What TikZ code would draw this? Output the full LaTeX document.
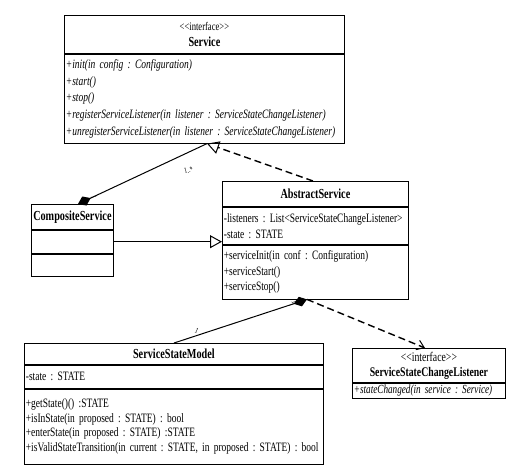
\documentclass[tikz,border=0pt]{standalone}
\usepackage{fontspec}
\setmainfont{Liberation Serif}[FakeStretch=0.74, WordSpace=0.7]
\frenchspacing
\usetikzlibrary{arrows.meta, positioning, calc}

\begin{document}
\begin{tikzpicture}[
    x=1pt, y=-1pt,
    compart/.style={draw, line width=0.8pt, anchor=north west, inner xsep=1.5pt, inner ysep=0pt,
        align=left, font=\fontsize{12.8}{16}\selectfont},
    head/.style={compart, align=center, font=\fontsize{13.8}{16}\selectfont\bfseries},
    mult/.style={font=\fontsize{8}{8}\selectfont, inner sep=0.5pt},
    realize/.style={line width=1.4pt, dash pattern=on 7pt off 4pt,
        -{Triangle[open, length=12pt, width=13pt, line width=1pt]}},
    extend/.style={line width=0.9pt, -{Triangle[open, length=12pt, width=13pt, line width=1pt]}},
    compose/.style={line width=1pt, {Diamond[length=14pt, width=10pt]}-},
    depend/.style={line width=1.4pt, dash pattern=on 7pt off 4pt,
        -{Straight Barb[length=7pt, width=10pt, line width=1pt]}}
]
\useasboundingbox (0,0) rectangle (506,469);

% Service interface
\node[head, text width=277pt, minimum height=38pt] (svcTitle) at (64,15)
    {{\mdseries\fontsize{11.6}{15}\selectfont <{}<interface>{}>}\\Service};
\node[compart, text width=277pt, minimum height=89pt, font=\fontsize{12.8}{16.8}\selectfont\itshape]
    (svcOps) at (svcTitle.south west)
    {+init(in config : Configuration)\\+start()\\+stop()\\
     +registerServiceListener(in listener : ServiceStateChangeListener)\\
     +unregisterServiceListener(in listener : ServiceStateChangeListener)};

% CompositeService
\node[head, text width=79pt, minimum height=25pt] (compTitle) at (31,204) {CompositeService};
\node[compart, text width=79pt, minimum height=23pt] (compAttr) at (compTitle.south west) {};
\node[compart, text width=79pt, minimum height=22pt] (compOps) at (compAttr.south west) {};

% AbstractService
\node[head, text width=183pt, minimum height=25pt] (absTitle) at (222,181) {AbstractService};
\node[compart, text width=183pt, minimum height=37pt] (absAttr) at (absTitle.south west)
    {-listeners : List<ServiceStateChangeListener>\\-state : STATE};
\node[compart, text width=183pt, minimum height=54pt, font=\fontsize{12.8}{15.5}\selectfont]
    (absOps) at (absAttr.south west)
    {+serviceInit(in conf : Configuration)\\+serviceStart()\\+serviceStop()};

% ServiceStateModel
\node[head, text width=296pt, minimum height=21pt] (ssmTitle) at (24,343) {ServiceStateModel};
\node[compart, text width=296pt, minimum height=23pt] (ssmAttr) at (ssmTitle.south west) {-state : STATE};
\node[compart, text width=296pt, minimum height=75pt, font=\fontsize{12.8}{14.4}\selectfont]
    (ssmOps) at (ssmAttr.south west)
    {+getState()() :STATE\\+isInState(in proposed : STATE) : bool\\
     +enterState(in proposed : STATE) :STATE\\
     +isValidStateTransition(in current : STATE, in proposed : STATE) : bool};

% ServiceStateChangeListener interface
\node[head, text width=150pt, minimum height=34pt, font=\fontsize{13.2}{15}\selectfont\bfseries] (lsnTitle) at (352,348)
    {{\mdseries <{}<interface>{}>}\\ServiceStateChangeListener};
\node[compart, text width=150pt, minimum height=15pt, font=\fontsize{12.4}{12}\selectfont\itshape]
    (lsnOps) at (lsnTitle.south west) {+stateChanged(in service : Service)};

% connector ends
\coordinate (svcHook) at ([xshift=143pt]svcOps.south west);
\coordinate (absTop) at ([xshift=91pt]absTitle.north west);
\coordinate (compTop) at ([xshift=47pt]compTitle.north west);
\coordinate (absBottom) at ([xshift=85pt]absOps.south west);
\coordinate (ssmTop) at ([xshift=150pt]ssmTitle.north west);
\coordinate (lsnTop) at ([xshift=73pt]lsnTitle.north west);

\draw[realize] (absTop) -- (svcHook);
\draw[compose] (compTop) -- node[pos=0.15, below=1pt, mult, rotate=-75] {1}
    node[pos=0.85, below=14pt, mult, rotate=15] {1..*} (svcHook);
\draw[extend] (compAttr.east) -- (compAttr.east -| absAttr.west);
\draw[compose] (absBottom) -- node[pos=0.12, above=1pt, mult, rotate=-75] {1}
    node[pos=0.84, above=2pt, mult, rotate=-25] {1} (ssmTop);
\draw[depend] (absBottom) -- (lsnTop);

\end{tikzpicture}
\end{document}
